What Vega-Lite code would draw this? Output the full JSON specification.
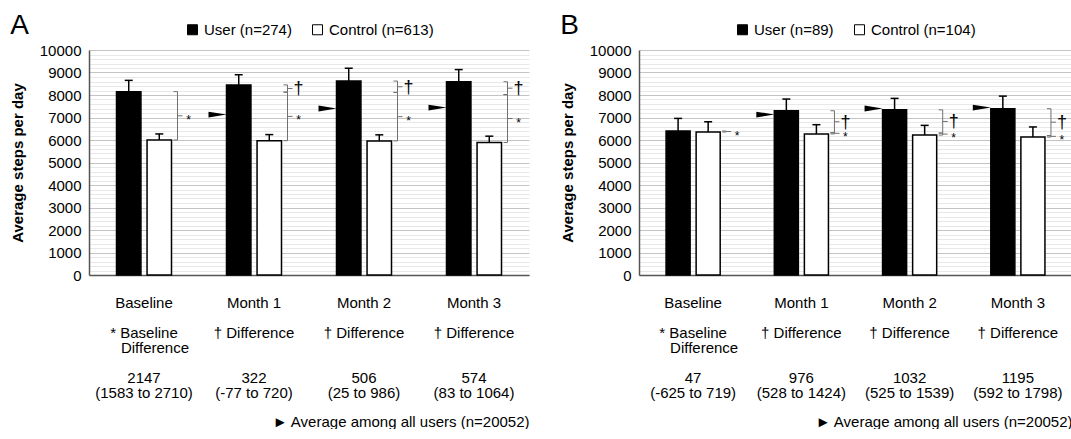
{
  "$schema": "https://vega.github.io/schema/vega-lite/v6.json",
  "background": "white",
  "padding": {"left": 10, "top": 12, "right": 0, "bottom": 0},
  "spacing": 31,
  "config": {
    "font": "Liberation Sans",
    "view": {"stroke": null},
    "axis": {"labelFont": "Liberation Sans", "titleFont": "Liberation Sans", "labelColor": "black", "titleColor": "black"},
    "legend": {"labelFont": "Liberation Sans", "labelColor": "black", "layout": {"top": {"anchor": "middle"}}},
    "text": {"font": "Liberation Sans"}
  },
  "datasets": {
    "bars": [
      {"panel": "A", "period": "Baseline", "group": "User", "steps": 8150, "upper": 8650},
      {"panel": "A", "period": "Baseline", "group": "Control", "steps": 6000, "upper": 6270},
      {"panel": "A", "period": "Month 1", "group": "User", "steps": 8450, "upper": 8900},
      {"panel": "A", "period": "Month 1", "group": "Control", "steps": 5970, "upper": 6240},
      {"panel": "A", "period": "Month 2", "group": "User", "steps": 8620, "upper": 9190},
      {"panel": "A", "period": "Month 2", "group": "Control", "steps": 5960, "upper": 6230},
      {"panel": "A", "period": "Month 3", "group": "User", "steps": 8590, "upper": 9130},
      {"panel": "A", "period": "Month 3", "group": "Control", "steps": 5890, "upper": 6170},
      {"panel": "B", "period": "Baseline", "group": "User", "steps": 6400, "upper": 6960},
      {"panel": "B", "period": "Baseline", "group": "Control", "steps": 6355, "upper": 6810},
      {"panel": "B", "period": "Month 1", "group": "User", "steps": 7300, "upper": 7820},
      {"panel": "B", "period": "Month 1", "group": "Control", "steps": 6270, "upper": 6680},
      {"panel": "B", "period": "Month 2", "group": "User", "steps": 7340, "upper": 7850},
      {"panel": "B", "period": "Month 2", "group": "Control", "steps": 6220, "upper": 6650},
      {"panel": "B", "period": "Month 3", "group": "User", "steps": 7390, "upper": 7950},
      {"panel": "B", "period": "Month 3", "group": "Control", "steps": 6130, "upper": 6580}
    ],
    "avg": [
      {"panel": "A", "period": "Month 1", "avg": 7130},
      {"panel": "A", "period": "Month 2", "avg": 7400},
      {"panel": "A", "period": "Month 3", "avg": 7440},
      {"panel": "B", "period": "Month 1", "avg": 7130},
      {"panel": "B", "period": "Month 2", "avg": 7400},
      {"panel": "B", "period": "Month 3", "avg": 7440}
    ],
    "brackets": [
      {"panel": "A", "period": "Baseline", "sym": "*", "v": 6000},
      {"panel": "A", "period": "Baseline", "sym": "*", "v": 8150},
      {"panel": "A", "period": "Month 1", "sym": "*", "v": 5970},
      {"panel": "A", "period": "Month 1", "sym": "*", "v": 8128},
      {"panel": "A", "period": "Month 1", "sym": "†", "v": 8128},
      {"panel": "A", "period": "Month 1", "sym": "†", "v": 8450},
      {"panel": "A", "period": "Month 2", "sym": "*", "v": 5960},
      {"panel": "A", "period": "Month 2", "sym": "*", "v": 8114},
      {"panel": "A", "period": "Month 2", "sym": "†", "v": 8114},
      {"panel": "A", "period": "Month 2", "sym": "†", "v": 8620},
      {"panel": "A", "period": "Month 3", "sym": "*", "v": 5890},
      {"panel": "A", "period": "Month 3", "sym": "*", "v": 8016},
      {"panel": "A", "period": "Month 3", "sym": "†", "v": 8016},
      {"panel": "A", "period": "Month 3", "sym": "†", "v": 8590},
      {"panel": "B", "period": "Baseline", "sym": "*", "v": 6355},
      {"panel": "B", "period": "Baseline", "sym": "*", "v": 6400},
      {"panel": "B", "period": "Month 1", "sym": "*", "v": 6270},
      {"panel": "B", "period": "Month 1", "sym": "*", "v": 6324},
      {"panel": "B", "period": "Month 1", "sym": "†", "v": 6324},
      {"panel": "B", "period": "Month 1", "sym": "†", "v": 7300},
      {"panel": "B", "period": "Month 2", "sym": "*", "v": 6220},
      {"panel": "B", "period": "Month 2", "sym": "*", "v": 6308},
      {"panel": "B", "period": "Month 2", "sym": "†", "v": 6308},
      {"panel": "B", "period": "Month 2", "sym": "†", "v": 7340},
      {"panel": "B", "period": "Month 3", "sym": "*", "v": 6130},
      {"panel": "B", "period": "Month 3", "sym": "*", "v": 6195},
      {"panel": "B", "period": "Month 3", "sym": "†", "v": 6195},
      {"panel": "B", "period": "Month 3", "sym": "†", "v": 7390}
    ]
  },
  "resolve": {
    "scale": {"x": "independent", "y": "independent", "fill": "independent", "xOffset": "independent"},
    "legend": {"fill": "independent"}
  },
  "hconcat": [
    {
      "width": 440,
      "height": 225,
      "title": {"text": "A", "anchor": "start", "fontSize": 28, "fontWeight": "normal", "offset": -18, "color": "black", "font": "Liberation Sans"},
      "layer": [
        {
          "data": {"name": "bars"},
          "transform": [{"filter": "datum.panel == 'A'"}],
          "mark": {"type": "bar", "stroke": "black", "strokeWidth": 1.5},
          "encoding": {
            "x": {
              "field": "period", "type": "nominal",
              "scale": {"paddingInner": 0.5, "paddingOuter": 0.25},
              "axis": {
                "title": "► Average among all users (n=20052)",
                "titleAnchor": "end", "titleFontWeight": "normal", "titleFontSize": 15, "titlePadding": 14,
                "labelFontSize": 15, "labelLineHeight": 15, "labelPadding": 20, "labelAngle": 0, "labelOverlap": false,
                "ticks": false, "domainColor": "#555555", "domainWidth": 1.5, "labelBaseline": "top",
                "labelExpr": "datum.value == 'Baseline' ? ['Baseline', '\u2800', '* Baseline', '\u2800\u2800Difference', '\u2800', '2147', '(1583 to 2710)'] : datum.value == 'Month 1' ? ['Month 1', '\u2800', '† Difference', '\u2800', '\u2800', '322', '(-77 to 720)'] : datum.value == 'Month 2' ? ['Month 2', '\u2800', '† Difference', '\u2800', '\u2800', '506', '(25 to 986)'] : ['Month 3', '\u2800', '† Difference', '\u2800', '\u2800', '574', '(83 to 1064)']"
              }
            },
            "xOffset": {"field": "group", "type": "nominal", "scale": {"domain": ["User", "Control"], "paddingInner": 0.2, "paddingOuter": 0}},
            "y": {
              "field": "steps", "type": "quantitative",
              "scale": {"domain": [0, 10000], "nice": false},
              "axis": {
                "title": "Average steps per day", "titleFontWeight": "bold", "titleFontSize": 15, "titlePadding": 14,
                "labelFontSize": 15, "labelPadding": 8, "ticks": false, "tickCount": 50, "format": "d", "labelOverlap": false,
                "labelExpr": "datum.value % 1000 == 0 ? datum.label : ''",
                "gridColor": {"condition": {"test": "datum.value % 1000 == 0", "value": "#c4c4c4"}, "value": "#e8e8e8"},
                "domainColor": "#555555", "domainWidth": 1.5
              }
            },
            "fill": {
              "field": "group", "type": "nominal",
              "scale": {"domain": ["User", "Control"], "range": ["black", "white"]},
              "legend": {
                "orient": "top", "title": null, "direction": "horizontal", "offset": 12,
                "labelExpr": "datum.label == 'User' ? 'User (n=274)' : 'Control (n=613)'",
                "symbolType": "square", "symbolSize": 100, "symbolStrokeColor": "black", "symbolStrokeWidth": 1,
                "labelFontSize": 15, "columnPadding": 18, "labelOffset": 4
              }
            }
          }
        },
        {
          "data": {"name": "bars"},
          "transform": [{"filter": "datum.panel == 'A'"}],
          "mark": {"type": "rule", "color": "black", "strokeWidth": 1.5},
          "encoding": {
            "x": {"field": "period", "type": "nominal"},
            "xOffset": {"field": "group", "type": "nominal", "scale": {"domain": ["User", "Control"], "paddingInner": 0.2, "paddingOuter": 0}},
            "y": {"field": "steps", "type": "quantitative"},
            "y2": {"field": "upper"}
          }
        },
        {
          "data": {"name": "bars"},
          "transform": [{"filter": "datum.panel == 'A'"}],
          "mark": {"type": "tick", "orient": "horizontal", "color": "black", "size": 8, "thickness": 1.5, "opacity": 1},
          "encoding": {
            "x": {"field": "period", "type": "nominal"},
            "xOffset": {"field": "group", "type": "nominal", "scale": {"domain": ["User", "Control"], "paddingInner": 0.2, "paddingOuter": 0}},
            "y": {"field": "upper", "type": "quantitative"}
          }
        },
        {
          "data": {"name": "avg"},
          "transform": [{"filter": "datum.panel == 'A'"}],
          "mark": {"type": "point", "shape": "M-1,-0.32L1,0L-1,0.32Z", "size": 324, "filled": true, "color": "black", "opacity": 1, "xOffset": -9},
          "encoding": {
            "x": {"field": "period", "type": "nominal", "bandPosition": 0},
            "y": {"field": "avg", "type": "quantitative"}
          }
        },
        {
          "data": {"name": "brackets"},
          "transform": [{"filter": "datum.panel == 'A'"}],
          "mark": {"type": "point", "shape": "M-1,0L1,0", "size": 16, "filled": false, "color": "#707070", "strokeWidth": 1, "opacity": 1, "xOffset": 4},
          "encoding": {
            "x": {"field": "period", "type": "nominal", "bandPosition": 1},
            "y": {"field": "v", "type": "quantitative"}
          }
        },
        {
          "data": {"name": "brackets"},
          "transform": [{"filter": "datum.panel == 'A'"}],
          "mark": {"type": "rule", "color": "#707070", "strokeWidth": 1, "xOffset": 6},
          "encoding": {
            "x": {"field": "period", "type": "nominal", "bandPosition": 1},
            "y": {"aggregate": "min", "field": "v", "type": "quantitative"},
            "y2": {"aggregate": "max", "field": "v"},
            "detail": {"field": "sym"}
          }
        },
        {
          "data": {"name": "brackets"},
          "transform": [{"filter": "datum.panel == 'A'"}],
          "mark": {"type": "point", "shape": "M-1,0L1,0", "size": 25, "filled": false, "color": "#707070", "strokeWidth": 1, "opacity": 1, "xOffset": 8.5},
          "encoding": {
            "x": {"field": "period", "type": "nominal", "bandPosition": 1},
            "y": {"aggregate": "mean", "field": "v", "type": "quantitative"},
            "detail": {"field": "sym"}
          }
        },
        {
          "data": {"name": "brackets"},
          "transform": [{"filter": "datum.panel == 'A' && datum.sym == '*'"}],
          "mark": {"type": "text", "fontSize": 12, "color": "black", "xOffset": 17, "dy": 4, "baseline": "middle", "align": "center"},
          "encoding": {
            "x": {"field": "period", "type": "nominal", "bandPosition": 1},
            "y": {"aggregate": "mean", "field": "v", "type": "quantitative"},
            "text": {"field": "sym"}
          }
        },
        {
          "data": {"name": "brackets"},
          "transform": [{"filter": "datum.panel == 'A' && datum.sym == '†'"}],
          "mark": {"type": "text", "fontSize": 18, "color": "black", "xOffset": 17, "dy": 1, "baseline": "middle", "align": "center"},
          "encoding": {
            "x": {"field": "period", "type": "nominal", "bandPosition": 1},
            "y": {"aggregate": "mean", "field": "v", "type": "quantitative"},
            "text": {"field": "sym"}
          }
        }
      ]
    },
    {
      "width": 433,
      "height": 225,
      "title": {"text": "B", "anchor": "start", "fontSize": 28, "fontWeight": "normal", "offset": -18, "color": "black", "font": "Liberation Sans"},
      "layer": [
        {
          "data": {"name": "bars"},
          "transform": [{"filter": "datum.panel == 'B'"}],
          "mark": {"type": "bar", "stroke": "black", "strokeWidth": 1.5},
          "encoding": {
            "x": {
              "field": "period", "type": "nominal",
              "scale": {"paddingInner": 0.5, "paddingOuter": 0.25},
              "axis": {
                "title": "► Average among all users (n=20052)",
                "titleAnchor": "end", "titleFontWeight": "normal", "titleFontSize": 15, "titlePadding": 14,
                "labelFontSize": 15, "labelLineHeight": 15, "labelPadding": 20, "labelAngle": 0, "labelOverlap": false,
                "ticks": false, "domainColor": "#555555", "domainWidth": 1.5, "labelBaseline": "top",
                "labelExpr": "datum.value == 'Baseline' ? ['Baseline', '\u2800', '* Baseline', '\u2800\u2800Difference', '\u2800', '47', '(-625 to 719)'] : datum.value == 'Month 1' ? ['Month 1', '\u2800', '† Difference', '\u2800', '\u2800', '976', '(528 to 1424)'] : datum.value == 'Month 2' ? ['Month 2', '\u2800', '† Difference', '\u2800', '\u2800', '1032', '(525 to 1539)'] : ['Month 3', '\u2800', '† Difference', '\u2800', '\u2800', '1195', '(592 to 1798)']"
              }
            },
            "xOffset": {"field": "group", "type": "nominal", "scale": {"domain": ["User", "Control"], "paddingInner": 0.2, "paddingOuter": 0}},
            "y": {
              "field": "steps", "type": "quantitative",
              "scale": {"domain": [0, 10000], "nice": false},
              "axis": {
                "title": "Average steps per day", "titleFontWeight": "bold", "titleFontSize": 15, "titlePadding": 14,
                "labelFontSize": 15, "labelPadding": 8, "ticks": false, "tickCount": 50, "format": "d", "labelOverlap": false,
                "labelExpr": "datum.value % 1000 == 0 ? datum.label : ''",
                "gridColor": {"condition": {"test": "datum.value % 1000 == 0", "value": "#c4c4c4"}, "value": "#e8e8e8"},
                "domainColor": "#555555", "domainWidth": 1.5
              }
            },
            "fill": {
              "field": "group", "type": "nominal",
              "scale": {"domain": ["User", "Control"], "range": ["black", "white"]},
              "legend": {
                "orient": "top", "title": null, "direction": "horizontal", "offset": 12,
                "labelExpr": "datum.label == 'User' ? 'User (n=89)' : 'Control (n=104)'",
                "symbolType": "square", "symbolSize": 100, "symbolStrokeColor": "black", "symbolStrokeWidth": 1,
                "labelFontSize": 15, "columnPadding": 18, "labelOffset": 4
              }
            }
          }
        },
        {
          "data": {"name": "bars"},
          "transform": [{"filter": "datum.panel == 'B'"}],
          "mark": {"type": "rule", "color": "black", "strokeWidth": 1.5},
          "encoding": {
            "x": {"field": "period", "type": "nominal"},
            "xOffset": {"field": "group", "type": "nominal", "scale": {"domain": ["User", "Control"], "paddingInner": 0.2, "paddingOuter": 0}},
            "y": {"field": "steps", "type": "quantitative"},
            "y2": {"field": "upper"}
          }
        },
        {
          "data": {"name": "bars"},
          "transform": [{"filter": "datum.panel == 'B'"}],
          "mark": {"type": "tick", "orient": "horizontal", "color": "black", "size": 8, "thickness": 1.5, "opacity": 1},
          "encoding": {
            "x": {"field": "period", "type": "nominal"},
            "xOffset": {"field": "group", "type": "nominal", "scale": {"domain": ["User", "Control"], "paddingInner": 0.2, "paddingOuter": 0}},
            "y": {"field": "upper", "type": "quantitative"}
          }
        },
        {
          "data": {"name": "avg"},
          "transform": [{"filter": "datum.panel == 'B'"}],
          "mark": {"type": "point", "shape": "M-1,-0.32L1,0L-1,0.32Z", "size": 324, "filled": true, "color": "black", "opacity": 1, "xOffset": -9},
          "encoding": {
            "x": {"field": "period", "type": "nominal", "bandPosition": 0},
            "y": {"field": "avg", "type": "quantitative"}
          }
        },
        {
          "data": {"name": "brackets"},
          "transform": [{"filter": "datum.panel == 'B'"}],
          "mark": {"type": "point", "shape": "M-1,0L1,0", "size": 16, "filled": false, "color": "#707070", "strokeWidth": 1, "opacity": 1, "xOffset": 4},
          "encoding": {
            "x": {"field": "period", "type": "nominal", "bandPosition": 1},
            "y": {"field": "v", "type": "quantitative"}
          }
        },
        {
          "data": {"name": "brackets"},
          "transform": [{"filter": "datum.panel == 'B'"}],
          "mark": {"type": "rule", "color": "#707070", "strokeWidth": 1, "xOffset": 6},
          "encoding": {
            "x": {"field": "period", "type": "nominal", "bandPosition": 1},
            "y": {"aggregate": "min", "field": "v", "type": "quantitative"},
            "y2": {"aggregate": "max", "field": "v"},
            "detail": {"field": "sym"}
          }
        },
        {
          "data": {"name": "brackets"},
          "transform": [{"filter": "datum.panel == 'B'"}],
          "mark": {"type": "point", "shape": "M-1,0L1,0", "size": 25, "filled": false, "color": "#707070", "strokeWidth": 1, "opacity": 1, "xOffset": 8.5},
          "encoding": {
            "x": {"field": "period", "type": "nominal", "bandPosition": 1},
            "y": {"aggregate": "mean", "field": "v", "type": "quantitative"},
            "detail": {"field": "sym"}
          }
        },
        {
          "data": {"name": "brackets"},
          "transform": [{"filter": "datum.panel == 'B' && datum.sym == '*'"}],
          "mark": {"type": "text", "fontSize": 12, "color": "black", "xOffset": 17, "dy": 4, "baseline": "middle", "align": "center"},
          "encoding": {
            "x": {"field": "period", "type": "nominal", "bandPosition": 1},
            "y": {"aggregate": "mean", "field": "v", "type": "quantitative"},
            "text": {"field": "sym"}
          }
        },
        {
          "data": {"name": "brackets"},
          "transform": [{"filter": "datum.panel == 'B' && datum.sym == '†'"}],
          "mark": {"type": "text", "fontSize": 18, "color": "black", "xOffset": 17, "dy": 1, "baseline": "middle", "align": "center"},
          "encoding": {
            "x": {"field": "period", "type": "nominal", "bandPosition": 1},
            "y": {"aggregate": "mean", "field": "v", "type": "quantitative"},
            "text": {"field": "sym"}
          }
        }
      ]
    }
  ]
}
